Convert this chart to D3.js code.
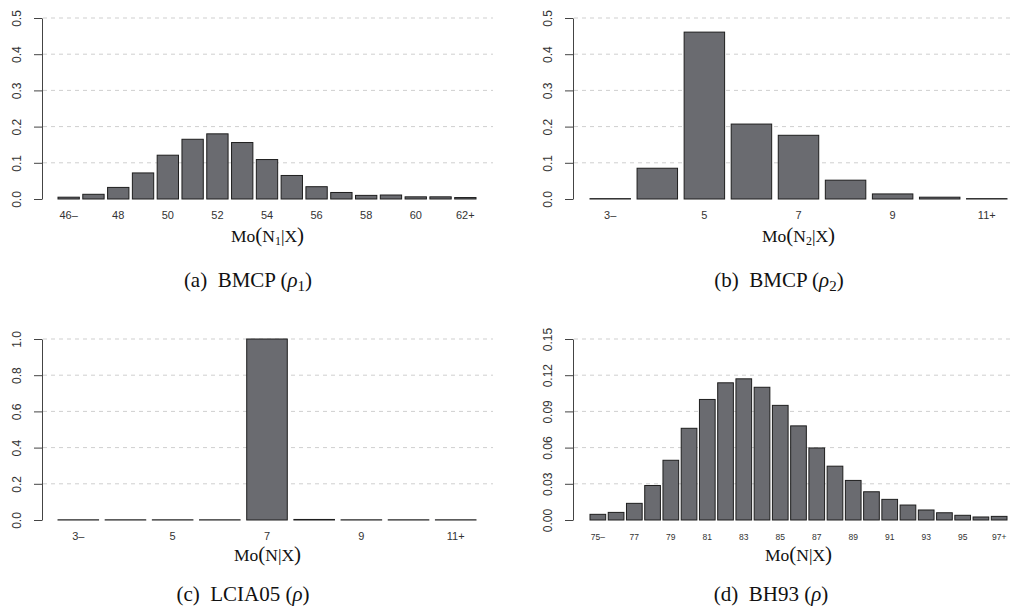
<!DOCTYPE html>
<html>
<head>
<meta charset="utf-8">
<script src="https://cdn.jsdelivr.net/npm/d3@7"></script>
<style>
  body { margin: 0; background: #fff; }
  svg { display: block; }
  .ytick text { font-family: "Liberation Sans", Arial, sans-serif; fill: #333; }
  .xlab { font-family: "Liberation Sans", Arial, sans-serif; fill: #333; }
  .title, .caption { font-family: "Liberation Serif", "Times New Roman", serif; fill: #111; }
</style>
</head>
<body>
<div id="chart"></div>
<script>
// panel (a) BMCP rho1
const catsA = ["46–", "47", "48", "49", "50", "51", "52", "53", "54", "55", "56", "57", "58", "59", "60", "61", "62+"];
const valsA = [0.005, 0.013, 0.032, 0.072, 0.121, 0.165, 0.180, 0.156, 0.109, 0.065, 0.034, 0.018, 0.010, 0.011, 0.006, 0.006, 0.004];
const yTicksA = [0, 0.1, 0.2, 0.3, 0.4, 0.5];

// panel (b) BMCP rho2
const catsB = ["3–", "4", "5", "6", "7", "8", "9", "10", "11+"];
const valsB = [0.001, 0.085, 0.461, 0.207, 0.176, 0.052, 0.014, 0.005, 0.001];
const yTicksB = [0, 0.1, 0.2, 0.3, 0.4, 0.5];

// panel (c) LCIA05
const catsC = ["3–", "4", "5", "6", "7", "8", "9", "10", "11+"];
const valsC = [0.001, 0.001, 0.001, 0.001, 1.0, 0.003, 0.001, 0.001, 0.001];
const yTicksC = [0, 0.2, 0.4, 0.6, 0.8, 1.0];

// panel (d) BH93
const catsD = ["75–", "76", "77", "78", "79", "80", "81", "82", "83", "84", "85", "86", "87", "88", "89", "90", "91", "92", "93", "94", "95", "96", "97+"];
const valsD = [0.0047, 0.0063, 0.0138, 0.0286, 0.0495, 0.0760, 0.0999, 0.1137, 0.1170, 0.1100, 0.0950, 0.0780, 0.0597, 0.0446, 0.0328, 0.0234, 0.0171, 0.0124, 0.0083, 0.0060, 0.0039, 0.0025, 0.0030];
const yTicksD = [0, 0.03, 0.06, 0.09, 0.12, 0.15];

const width = 1011, height = 616;
const svg = d3.select("#chart").append("svg")
  .attr("width", width)
  .attr("height", height);

const panels = [
  {cats: catsA, vals: valsA, ticks: yTicksA, fmt: d3.format(".1f"), axisX: 42, top: 18, bottom: 199, titleY: 242,
   barL: 58, barR: 476, gridR: 493, xFont: 11, sub: "1", caption: ["(a)", "BMCP", "1"], capX: 248, capY: 287},
  {cats: catsB, vals: valsB, ticks: yTicksB, fmt: d3.format(".1f"), axisX: 573, top: 18, bottom: 199, titleY: 242,
   barL: 590, barR: 1007, gridR: 1024, xFont: 11, sub: "2", caption: ["(b)", "BMCP", "2"], capX: 779, capY: 287},
  {cats: catsC, vals: valsC, ticks: yTicksC, fmt: d3.format(".1f"), axisX: 42, top: 339, bottom: 520, titleY: 561,
   barL: 58, barR: 476, gridR: 493, xFont: 11, sub: null, caption: ["(c)", "LCIA05", null], capX: 243, capY: 601},
  {cats: catsD, vals: valsD, ticks: yTicksD, fmt: d3.format(".2f"), axisX: 573, top: 339, bottom: 520, titleY: 561,
   barL: 590, barR: 1007, gridR: 1024, xFont: 8.5, sub: null, caption: ["(d)", "BH93", null], capX: 771, capY: 601}
];

panels.forEach(drawPanel);

function drawPanel(p) {
  const g = svg.append("g");
  const y = d3.scaleLinear()
    .domain([0, d3.max(p.ticks)])
    .range([p.bottom, p.top]);
  const x = d3.scaleBand()
    .domain(p.cats)
    .range([p.barL, p.barR])
    .paddingInner(0.14)
    .paddingOuter(0);

  // dashed gridlines
  g.selectAll("line.grid")
    .data(p.ticks.slice(1))
    .enter()
    .append("line")
    .attr("class", "grid")
    .attr("x1", p.axisX + 1)
    .attr("x2", p.gridR)
    .attr("y1", d => y(d))
    .attr("y2", d => y(d))
    .attr("stroke", "#cfcfcf")
    .attr("stroke-width", 1)
    .attr("stroke-dasharray", "4,4");

  // bars
  g.selectAll("rect")
    .data(p.vals)
    .enter()
    .append("rect")
    .attr("x", (d, i) => x(p.cats[i]))
    .attr("width", x.bandwidth())
    .attr("y", d => y(d))
    .attr("height", d => Math.max(0.1, y(0) - y(d)))
    .attr("fill", "#6a6b70")
    .attr("stroke", "#1e1e1e")
    .attr("stroke-width", 1);

  // y axis, R style with rotated labels
  const yAxis = d3.axisLeft(y)
    .tickValues(p.ticks)
    .tickFormat(p.fmt)
    .tickSizeOuter(0)
    .tickSizeInner(8);
  const ax = g.append("g")
    .attr("class", "ytick")
    .attr("transform", `translate(${p.axisX},0)`)
    .call(yAxis);
  ax.select(".domain").attr("stroke", "#444");
  ax.selectAll(".tick line").attr("stroke", "#444");
  ax.selectAll(".tick text")
    .attr("transform", "rotate(-90)")
    .attr("x", 0)
    .attr("y", -21)
    .attr("dy", 0)
    .style("text-anchor", "middle")
    .style("font-size", "12px");

  // x labels, every other category (as R drops the overlapping ones)
  g.selectAll("text.xlab")
    .data(p.cats.filter((c, i) => i % 2 === 0))
    .enter()
    .append("text")
    .attr("class", "xlab")
    .attr("x", c => x(c) + x.bandwidth() / 2)
    .attr("y", p.bottom + 20)
    .attr("text-anchor", "middle")
    .style("font-size", p.xFont + "px")
    .text(c => c);

  // x title Mo(N|X)
  const t = g.append("text")
    .attr("class", "title")
    .attr("x", (p.axisX + p.gridR) / 2)
    .attr("y", p.titleY)
    .attr("text-anchor", "middle")
    .style("font-size", "17.5px");
  t.append("tspan").text("Mo");
  t.append("tspan").style("font-size", "21px").text("(");
  t.append("tspan").text("N");
  if (p.sub) {
    t.append("tspan").attr("dy", 3).style("font-size", "12px").text(p.sub);
    t.append("tspan").attr("dy", -3).text("|X");
  } else {
    t.append("tspan").text("|X");
  }
  t.append("tspan").style("font-size", "21px").text(")");

  // caption below the panel
  const c = svg.append("text")
    .attr("class", "caption")
    .attr("x", p.capX)
    .attr("y", p.capY)
    .attr("text-anchor", "middle")
    .style("font-size", "21px");
  c.append("tspan").text(p.caption[0] + "\u00a0 " + p.caption[1] + " (");
  c.append("tspan").style("font-style", "italic").text("ρ");
  if (p.caption[2]) {
    c.append("tspan").attr("dy", 4).style("font-size", "15px").text(p.caption[2]);
    c.append("tspan").attr("dy", -4).text(")");
  } else {
    c.append("tspan").text(")");
  }
}
</script>
</body>
</html>
